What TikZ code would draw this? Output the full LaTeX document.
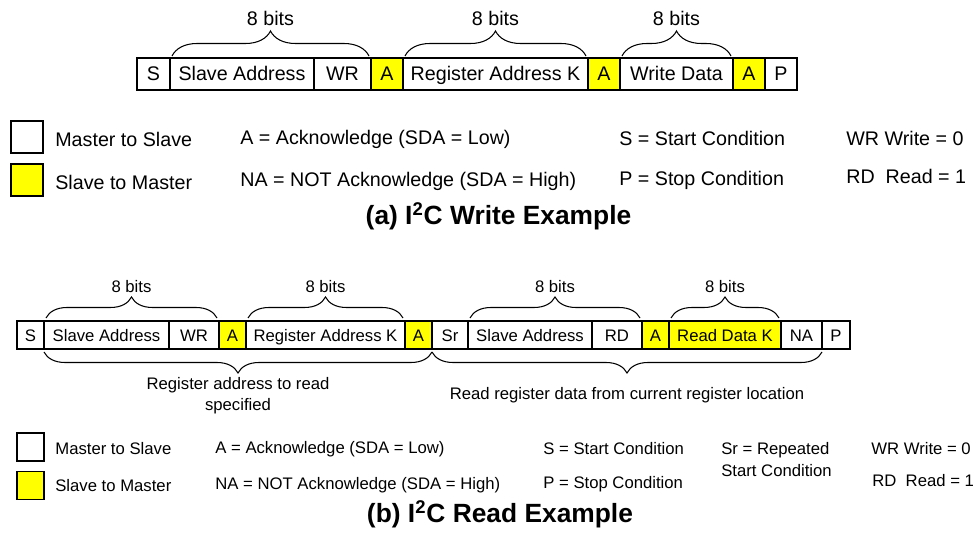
\documentclass[tikz,border=0pt]{standalone}
\usepackage{fontspec}
\setmainfont{Liberation Sans}
\usetikzlibrary{positioning,decorations.pathreplacing}

\definecolor{i2cYellow}{HTML}{FFFF00}

\begin{document}
\begin{tikzpicture}[
  fontA/.style={font=\fontsize{11.2}{13.4}\selectfont},
  fontB/.style={font=\fontsize{9.5}{12}\selectfont},
  cell/.style={draw, line width=0.6pt, inner sep=1pt, outer sep=0pt,
               anchor=west, text height=1.6ex, text depth=0.3ex},
  cellA/.style={cell, minimum height=0.64cm, fontA},
  cellB/.style={cell, minimum height=0.56cm, fontB},
  ack/.style={fill=i2cYellow},
  bitbrace/.style={decorate, decoration={brace, amplitude=#1}, line width=0.6pt},
  spanbrace/.style={decorate, decoration={brace, mirror, amplitude=#1}, line width=0.6pt},
  keybox/.style={draw, line width=0.6pt, inner sep=0pt},
  lbl/.style={inner sep=0pt, anchor=west},
  titletext/.style={font=\fontsize{15}{18}\selectfont\bfseries}
]
  \useasboundingbox (0,0) rectangle (19.5,-10.74);

  % ---- (a) write frame ----
  \node[cellA, minimum width=0.66cm] (s1) at (2.74,-1.48) {S};
  \node[cellA, minimum width=2.88cm, right=0pt of s1] (sa1) {Slave Address};
  \node[cellA, minimum width=1.14cm, right=0pt of sa1] (wr1) {WR};
  \node[cellA, ack, minimum width=0.64cm, right=0pt of wr1] (a1) {A};
  \node[cellA, minimum width=3.70cm, right=0pt of a1] (ra1) {Register Address K};
  \node[cellA, ack, minimum width=0.64cm, right=0pt of ra1] (a2) {A};
  \node[cellA, minimum width=2.26cm, right=0pt of a2] (wd1) {Write Data};
  \node[cellA, ack, minimum width=0.64cm, right=0pt of wd1] (a3) {A};
  \node[cellA, minimum width=0.64cm, right=0pt of a3] (p1) {P};

  % ---- 8 bit braces ----
  \draw[bitbrace=0.5cm] ([xshift=0.04cm,yshift=0.04cm]sa1.north west)
        -- ([xshift=-0.04cm,yshift=0.04cm]wr1.north east)
        node[midway, yshift=0.76cm, fontA] {8 bits};
  \draw[bitbrace=0.5cm] ([xshift=0.04cm,yshift=0.04cm]ra1.north west)
        -- ([xshift=-0.04cm,yshift=0.04cm]ra1.north east)
        node[midway, yshift=0.76cm, fontA] {8 bits};
  \draw[bitbrace=0.5cm] ([xshift=0.04cm,yshift=0.04cm]wd1.north west)
        -- ([xshift=-0.04cm,yshift=0.04cm]wd1.north east)
        node[midway, yshift=0.76cm, fontA] {8 bits};

  % ---- (a) legend ----
  \node[keybox, minimum width=0.64cm, minimum height=0.64cm] (kw1) at (0.54,-2.74) {};
  \node[keybox, ack, minimum width=0.64cm, minimum height=0.64cm] (ky1) at (0.54,-3.60) {};
  \node[lbl, fontA] (mts1) at (1.10,-2.78) {Master to Slave};
  \node[lbl, fontA] (stm1) at (1.10,-3.64) {Slave to Master};
  \node[lbl, fontA] (ackA) at (4.80,-2.78) {A = Acknowledge (SDA = Low)};
  \node[lbl, fontA] (nackA) at (4.80,-3.62) {NA = NOT Acknowledge (SDA = High)};
  \node[lbl, fontA] (startA) at (12.38,-2.76) {S = Start Condition};
  \node[lbl, fontA] (stopA) at (12.38,-3.60) {P = Stop Condition};
  \node[lbl, fontA] (wrA) at (16.92,-2.76) {WR Write = 0};
  \node[lbl, fontA] (rdA) at (16.92,-3.52) {RD~ Read = 1};
  \node[titletext] (capA) at (9.97,-4.32) {(a) I\textsuperscript{2}C Write Example};

  % ---- (b) read frame ----
  \node[cellB, minimum width=0.54cm] (s2) at (0.34,-6.70) {S};
  \node[cellB, minimum width=2.50cm, right=0pt of s2] (sa2) {Slave Address};
  \node[cellB, minimum width=1.00cm, right=0pt of sa2] (wr2) {WR};
  \node[cellB, ack, minimum width=0.54cm, right=0pt of wr2] (a4) {A};
  \node[cellB, minimum width=3.18cm, right=0pt of a4] (ra2) {Register Address K};
  \node[cellB, ack, minimum width=0.54cm, right=0pt of ra2] (a5) {A};
  \node[cellB, minimum width=0.72cm, right=0pt of a5] (sr2) {Sr};
  \node[cellB, minimum width=2.48cm, right=0pt of sr2] (sa3) {Slave Address};
  \node[cellB, minimum width=1.00cm, right=0pt of sa3] (rd2) {RD};
  \node[cellB, ack, minimum width=0.54cm, right=0pt of rd2] (a6) {A};
  \node[cellB, ack, minimum width=2.24cm, right=0pt of a6] (rdk) {Read Data K};
  \node[cellB, minimum width=0.82cm, right=0pt of rdk] (na2) {NA};
  \node[cellB, minimum width=0.56cm, right=0pt of na2] (p2) {P};

  % ---- 8 bit braces ----
  \draw[bitbrace=0.42cm] ([xshift=0.04cm,yshift=0.06cm]sa2.north west)
        -- ([xshift=-0.04cm,yshift=0.06cm]wr2.north east)
        node[midway, yshift=0.62cm, fontB] {8 bits};
  \draw[bitbrace=0.42cm] ([xshift=0.04cm,yshift=0.06cm]ra2.north west)
        -- ([xshift=-0.04cm,yshift=0.06cm]ra2.north east)
        node[midway, yshift=0.62cm, fontB] {8 bits};
  \draw[bitbrace=0.42cm] ([xshift=0.04cm,yshift=0.06cm]sa3.north west)
        -- ([xshift=-0.04cm,yshift=0.06cm]rd2.north east)
        node[midway, yshift=0.62cm, fontB] {8 bits};
  \draw[bitbrace=0.42cm] ([xshift=0.04cm,yshift=0.06cm]rdk.north west)
        -- ([xshift=-0.04cm,yshift=0.06cm]rdk.north east)
        node[midway, yshift=0.62cm, fontB] {8 bits};

  % ---- span braces below ----
  \draw[spanbrace=0.42cm] ([yshift=-0.06cm]sa2.south west)
        -- ([yshift=-0.06cm]a5.south east)
        node[midway, yshift=-0.87cm, fontB, align=center]
        {Register address to read\\specified};
  \draw[spanbrace=0.42cm] ([yshift=-0.06cm]sr2.south west)
        -- ([yshift=-0.06cm]na2.south east)
        node[midway, yshift=-0.87cm, fontB]
        {Read register data from current register location};

  % ---- (b) legend ----
  \node[keybox, minimum width=0.54cm, minimum height=0.56cm] (kw2) at (0.61,-8.94) {};
  \node[keybox, ack, minimum width=0.54cm, minimum height=0.56cm] (ky2) at (0.61,-9.71) {};
  \node[lbl, fontB] (mts2) at (1.10,-8.98) {Master to Slave};
  \node[lbl, fontB] (stm2) at (1.10,-9.72) {Slave to Master};
  \node[lbl, fontB] (ackB) at (4.30,-8.98) {A = Acknowledge (SDA = Low)};
  \node[lbl, fontB] (nackB) at (4.30,-9.70) {NA = NOT Acknowledge (SDA = High)};
  \node[lbl, fontB] (startB) at (10.86,-8.98) {S = Start Condition};
  \node[lbl, fontB] (stopB) at (10.86,-9.68) {P = Stop Condition};
  \node[lbl, fontB, align=left] (srB) at (14.42,-9.19) {Sr = Repeated\\Start Condition};
  \node[lbl, fontB] (wrB) at (17.42,-8.98) {WR Write = 0};
  \node[lbl, fontB] (rdB) at (17.44,-9.62) {RD~ Read = 1};
  \node[titletext] (capB) at (10.0,-10.28) {(b) I\textsuperscript{2}C Read Example};
\end{tikzpicture}
\end{document}
